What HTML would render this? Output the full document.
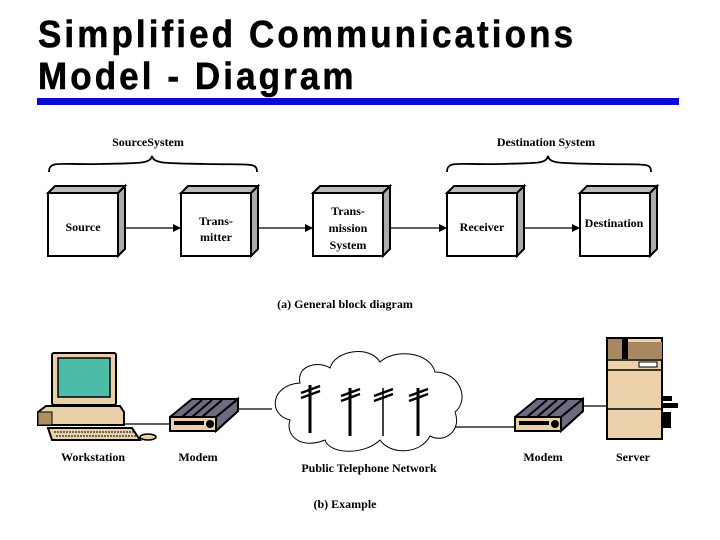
<!DOCTYPE html>
<html><head><meta charset="utf-8"><style>
html,body{margin:0;padding:0;background:#fff;}
svg{display:block}
.t{font-family:"Liberation Serif",serif;font-weight:bold;font-size:12px;fill:#000}
.h{font-family:"Liberation Sans",sans-serif;font-weight:bold;font-size:35px;fill:#000;letter-spacing:3.1px}
</style></head><body>
<svg width="720" height="540" viewBox="0 0 720 540" xmlns="http://www.w3.org/2000/svg">
<defs>
<marker id="ar" markerWidth="8" markerHeight="8" refX="7" refY="4" orient="auto" markerUnits="userSpaceOnUse"><path d="M0,0 L8,4 L0,8z" fill="#000"/></marker>
<g id="box">
<path d="M0,7 L7,0 L77,0 L70,7z" fill="#bbb" stroke="#000" stroke-width="2"/>
<path d="M70,7 L77,0 L77,63 L70,70z" fill="#aaa" stroke="#000" stroke-width="2"/>
<rect x="0" y="7" width="70" height="63" fill="#fff" stroke="#000" stroke-width="2"/>
</g>
<g id="modem">
<path d="M0,18 L22,0 L68,0 L66,10 L44,28 L0,28z" fill="#6e6a80" stroke="#000" stroke-width="2"/>
<path d="M0,18 L46,18 L68,0 L68,12 L46,32 L0,32z" fill="#e8d0a8" stroke="#000" stroke-width="2"/>
<path d="M46,18 L68,0 L68,12 L46,32z" fill="#6e6a80" stroke="#000" stroke-width="2"/>
<rect x="4" y="22" width="30" height="4" fill="#000"/>
<circle cx="40" cy="25" r="4" fill="#000"/>
<path d="M12,18 L32,1 M22,18 L42,1 M32,18 L52,1" stroke="#000" stroke-width="2"/>
</g>
<g id="pole">
<path d="M0,0 L0,48" stroke="#000" stroke-width="3"/>
<path d="M-9,8 L10,1 M-9,13 L10,6" stroke="#000" stroke-width="2.5"/>
</g>
</defs>
<g transform="translate(38,0) scale(1,1.08)">
<text class="h" x="0" y="43.5" stroke="#000" stroke-width="0.5">Simplified Communications</text>
<text class="h" x="0" y="82.4" stroke="#000" stroke-width="0.5">Model - Diagram</text>
</g>
<rect x="37" y="98" width="642" height="7" fill="#0a0ad4"/>

<text class="t" x="148" y="146" text-anchor="middle">SourceSystem</text>
<text class="t" x="546" y="146" text-anchor="middle">Destination System</text>
<path d="M49,172 C49,160 60,165 100,164 C140,163 150,164 152,156 C154,164 165,163 205,164 C250,165 257,162 257,172" fill="none" stroke="#000" stroke-width="1.8"/>
<path d="M447,172 C447,160 458,165 498,164 C538,163 546,164 548,156 C550,164 560,163 600,164 C645,165 651,162 651,172" fill="none" stroke="#000" stroke-width="1.8"/>

<use href="#box" x="48" y="186"/>
<use href="#box" x="181" y="186"/>
<use href="#box" x="313" y="186"/>
<use href="#box" x="447" y="186"/>
<use href="#box" x="580" y="186"/>
<text class="t" x="83" y="231" text-anchor="middle">Source</text>
<text class="t" x="216" y="225" text-anchor="middle">Trans-</text>
<text class="t" x="216" y="241" text-anchor="middle">mitter</text>
<text class="t" x="348" y="215" text-anchor="middle">Trans-</text>
<text class="t" x="348" y="232" text-anchor="middle">mission</text>
<text class="t" x="348" y="249" text-anchor="middle">System</text>
<text class="t" x="482" y="231" text-anchor="middle">Receiver</text>
<text class="t" x="614" y="227" text-anchor="middle">Destination</text>
<g stroke="#000" stroke-width="1.3" marker-end="url(#ar)">
<line x1="125" y1="228" x2="180" y2="228"/>
<line x1="258" y1="228" x2="312" y2="228"/>
<line x1="391" y1="228" x2="446" y2="228"/>
<line x1="524" y1="228" x2="579" y2="228"/>
</g>
<text class="t" x="345" y="308" text-anchor="middle">(a) General block diagram</text>

<g stroke="#000" stroke-width="1.3">
<line x1="120" y1="424" x2="172" y2="424"/>
<line x1="236" y1="409" x2="272" y2="409"/>
<line x1="455" y1="427" x2="516" y2="427"/>
<line x1="578" y1="406" x2="608" y2="406"/>
</g>

<rect x="52" y="353" width="64" height="52" fill="#e8d0a8" stroke="#000" stroke-width="2" rx="2"/>
<rect x="58" y="358" width="52" height="39" fill="#4cbca8" stroke="#000" stroke-width="1.5"/>
<path d="M66,405 L102,405 L110,412 L60,412z" fill="#e8d0a8" stroke="#000" stroke-width="1.5"/>
<path d="M38,412 L46,406 L120,406 L124,412 L124,425 L38,425z" fill="#e8d0a8" stroke="#000" stroke-width="2"/>
<rect x="38" y="412" width="14" height="13" fill="#b09060" stroke="#000" stroke-width="1"/>
<path d="M48,428 L132,428 L140,440 L52,440z" fill="#e8d0a8" stroke="#000" stroke-width="2"/>
<path d="M54,432 L134,432 M56,436 L136,436" stroke="#000" stroke-width="1" stroke-dasharray="2,1"/>
<ellipse cx="148" cy="437" rx="8" ry="3" fill="#e8d0a8" stroke="#000" stroke-width="1.5"/>
<text class="t" x="93" y="461" text-anchor="middle">Workstation</text>

<use href="#modem" x="170" y="399"/>
<text class="t" x="198" y="461" text-anchor="middle">Modem</text>
<use href="#modem" x="515" y="399"/>
<text class="t" x="543" y="461" text-anchor="middle">Modem</text>

<path d="M300,383 C296,366 318,360 330,368 C335,350 370,345 380,362 C395,348 430,352 435,372 C460,372 470,400 455,412 C462,430 445,444 430,436 C420,455 390,455 380,440 C365,455 330,455 325,440 C300,450 285,435 290,420 C268,415 270,385 300,383z" fill="#fff" stroke="#000" stroke-width="1"/>
<use href="#pole" x="310" y="385"/>
<use href="#pole" x="350" y="388"/>
<g transform="translate(383,388)"><path d="M0,0 L0,48" stroke="#000" stroke-width="1.5"/><path d="M-9,8 L10,1 M-9,13 L10,6" stroke="#000" stroke-width="2.5"/></g>
<use href="#pole" x="418" y="388"/>
<text class="t" x="369" y="472" text-anchor="middle">Public Telephone Network</text>

<rect x="607" y="338" width="55" height="101" fill="#ecd2aa" stroke="#000" stroke-width="2"/>
<rect x="608" y="339" width="14" height="20" fill="#a88860"/>
<rect x="622" y="339" width="6" height="20" fill="#000"/>
<rect x="628" y="342" width="34" height="17" fill="#a88860"/>
<line x1="607" y1="360" x2="662" y2="360" stroke="#000" stroke-width="1.5"/>
<rect x="639" y="362" width="18" height="5" fill="#fff" stroke="#000" stroke-width="1"/>
<line x1="607" y1="370" x2="662" y2="370" stroke="#000" stroke-width="1.5"/>
<line x1="607" y1="409" x2="662" y2="409" stroke="#000" stroke-width="1.5"/>
<rect x="662" y="396" width="10" height="5" fill="#000"/>
<rect x="662" y="403" width="16" height="5" fill="#000"/>
<rect x="662" y="412" width="9" height="16" fill="#000"/>
<text class="t" x="633" y="461" text-anchor="middle">Server</text>

<text class="t" x="345" y="508" text-anchor="middle">(b) Example</text>
</svg>
</body></html>
